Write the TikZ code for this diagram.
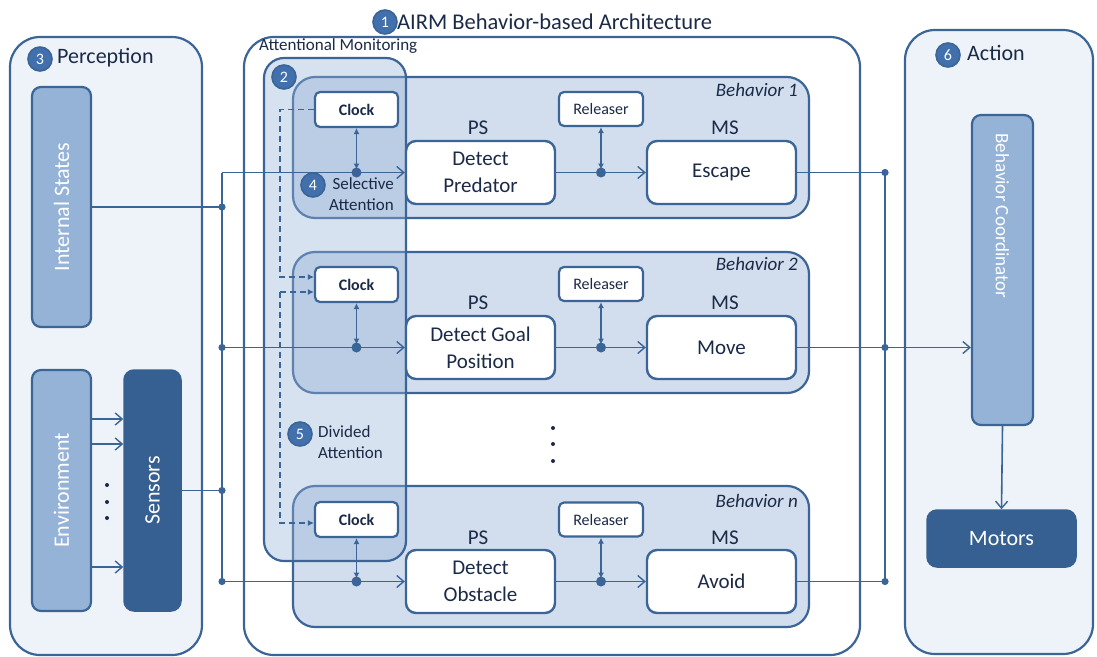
\documentclass[tikz,border=0pt]{standalone}
\usepackage{fontspec}
\setmainfont{Carlito}
\usetikzlibrary{arrows.meta,calc}

\definecolor{edge}{HTML}{3B6497}
\definecolor{pale}{HTML}{EEF3F9}
\definecolor{behav}{HTML}{D2DEEE}
\definecolor{mid}{HTML}{95B3D7}
\definecolor{deep}{HTML}{376092}
\definecolor{ink}{HTML}{1B2A47}
\definecolor{numfill}{HTML}{4170AD}

\newcommand\fsz[2]{\fontsize{#1}{#2}\selectfont}

\tikzset{
  panel/.style={draw=edge, line width=2.2pt, fill=pale, rounded corners=30pt, inner sep=0pt},
  behbox/.style={draw=edge, line width=2.2pt, fill=behav, rounded corners=22pt, inner sep=0pt,
                 minimum width=516pt, minimum height=141pt},
  attbox/.style={draw=edge, line width=2.2pt, fill=mid, fill opacity=0.38, rounded corners=20pt, inner sep=0pt},
  whitebox/.style={draw=edge, line width=2.4pt, fill=white, rounded corners=10pt, text=ink,
                   align=center, inner sep=0pt, minimum width=149pt, minimum height=63pt,
                   font=\fsz{21}{27}},
  clockbox/.style={draw=edge, line width=2.2pt, fill=white, rounded corners=5pt, text=ink,
                   inner sep=0pt, minimum width=83pt, minimum height=35pt, font=\fsz{16}{18}\bfseries},
  relbox/.style={draw=edge, line width=2.2pt, fill=white, rounded corners=5pt, text=ink,
                 inner sep=0pt, minimum width=84pt, minimum height=34pt, font=\fsz{16}{18}},
  barbox/.style={draw=edge, line width=2.2pt, fill=mid, rounded corners=9pt, text=white,
                 inner sep=0pt, font=\fsz{22}{24}},
  darkbox/.style={draw=deep, line width=1.5pt, fill=deep, rounded corners=10pt, text=white,
                  inner sep=0pt, font=\fsz{22}{24}},
  num/.style={circle, fill=numfill, draw=edge, line width=1.6pt, minimum size=24pt, inner sep=0pt,
              text=white, font=\fsz{16}{17}},
  lbl/.style={text=ink, inner sep=0pt},
  conn/.style={draw=edge, line width=1.6pt},
  arr/.style={conn, -{Straight Barb[length=7pt, width=12pt, line width=1.4pt]}},
  dbl/.style={conn, line width=1.4pt, {Latex[length=6pt, width=6pt]}-{Latex[length=6pt, width=6pt]}, shorten >=3pt},
  dsh/.style={conn, line width=1.4pt, dash pattern=on 6pt off 4pt},
  dsharr/.style={dsh, -{Latex[length=6pt, width=6pt]}},
}

\begin{document}
\begin{tikzpicture}[x=1pt, y=-1pt]
\useasboundingbox (0,0) rectangle (1097,656);

% ---------------- Perception ----------------
\node[panel, minimum width=192pt, minimum height=618pt] (perc) at (106,346) {};
\node[num] (n3) at (40,59) {3};
\node[lbl, anchor=west, font=\fsz{22}{24}] (perctxt) at (57,58) {Perception};

% rotated bars: width runs along the text
\node[barbox, minimum width=240pt, minimum height=59pt, rotate=90] (intst) at (61.5,207) {Internal States};
\node[barbox, minimum width=241pt, minimum height=59pt, rotate=90] (env) at (61.5,490.5) {Environment};
\node[darkbox, minimum width=241pt, minimum height=57pt, rotate=90] (sens) at (152.5,490.5) {Sensors};

\draw[arr] (env.south |- 0,419) -- (sens.north |- 0,419);
\draw[arr] (env.south |- 0,444) -- (sens.north |- 0,444);
\draw[arr] (env.south |- 0,567) -- (sens.north |- 0,567);
\foreach \yy in {485,502,518} \fill[ink] (107,\yy) circle (2pt);

% ---------------- Architecture ----------------
\node[panel, fill=white, minimum width=616pt, minimum height=618pt] (arch) at (552,346) {};
\node[num] (n1) at (385,22) {1};
\node[lbl, anchor=west, font=\fsz{22.5}{24}] (title) at (397,22) {AIRM Behavior-based Architecture};
\node[lbl, anchor=west, font=\fsz{17}{19}] (attmon) at (259,46) {Attentional Monitoring};

% behaviour boxes
\node[behbox] (beh1) at (551,147.5) {};
\node[behbox] (beh2) at (551,322.5) {};
\node[behbox] (behn) at (551,556.5) {};

% attention column, drawn over the behaviours
\node[attbox, minimum width=142pt, minimum height=503pt] (att) at (335,309.5) {};
\node[num] (n2) at (284,77) {2};

% labels in the behaviours
\node[lbl, anchor=east, font=\fsz{19}{21}\itshape] (bl1) at (798,90) {Behavior 1};
\node[lbl, anchor=east, font=\fsz{19}{21}\itshape] (bl2) at (798,264) {Behavior 2};
\node[lbl, anchor=east, font=\fsz{19}{21}\itshape] (bln) at (798,501) {Behavior n};

% clocks, releasers, schemas
\node[clockbox] (ck1) at (356.5,109.5) {Clock};
\node[clockbox] (ck2) at (356.5,284.5) {Clock};
\node[clockbox] (ckn) at (356.5,519.5) {Clock};

\node[relbox] (rl1) at (601,109) {Releaser};
\node[relbox] (rl2) at (601,284) {Releaser};
\node[relbox] (rln) at (601,519.5) {Releaser};

\node[whitebox] (ps1) at (480.5,172.5) {Detect\\Predator};
\node[whitebox] (ms1) at (721.5,172.5) {Escape};
\node[whitebox] (ps2) at (480.5,347.5) {Detect Goal\\Position};
\node[whitebox] (ms2) at (721.5,347.5) {Move};
\node[whitebox] (psn) at (480.5,581.5) {Detect\\Obstacle};
\node[whitebox] (msn) at (721.5,581.5) {Avoid};

\foreach \b/\yy in {1/128, 2/303, n/538} {
  \node[lbl, font=\fsz{21}{23}] (pslbl\b) at (478,\yy) {PS};
  \node[lbl, font=\fsz{21}{23}] (mslbl\b) at (725,\yy) {MS};
}

% dashed attention links between the clocks
\coordinate (dx) at (280,0);
\draw[dsharr] (ck1.west) -| (dx |- 0,277) -- (ck2.west |- 0,277);
\coordinate (d2) at (280,292);
\draw[dsharr] (d2) -- (ck2.west |- d2);
\draw[dsharr] (d2) |- (ckn.west |- 0,523);

% sensory bus
\coordinate (busx) at (222,0);
\coordinate (bt1) at (busx |- ps1.west);
\coordinate (bt2) at (busx |- ps2.west);
\coordinate (btn) at (busx |- psn.west);
\coordinate (bi) at (busx |- intst.south);
\coordinate (bs) at (busx |- sens.south);
\draw[conn] (bt1) -- (btn);
\draw[conn] (intst.south) -- (bi);
\draw[conn] (sens.south) -- (bs);
\foreach \p in {bi,bs,bt2,btn} \fill[edge] (\p) circle (3.6pt);

\foreach \b in {1,2,n} {
  \draw[arr] (bt\b) -- (ps\b.west);
  \coordinate (jc\b) at (ck\b.south |- ps\b.west);
  \coordinate (jr\b) at (rl\b.south |- ps\b.east);
  \draw[dbl] (ck\b.south) -- (jc\b);
  \draw[dbl] (rl\b.south) -- (jr\b);
  \draw[arr] (ps\b.east) -- (ms\b.west);
  \fill[edge] (jc\b) circle (5pt);
  \fill[edge] (jr\b) circle (5pt);
}

% attention captions
\node[num] (n4) at (313,185) {4};
\node[lbl, anchor=east, align=right, font=\fsz{17}{21}] (selatt) at (394,194) {Selective\\Attention};
\node[num] (n5) at (300,434) {5};
\node[lbl, anchor=west, align=left, font=\fsz{17}{21}] (divatt) at (318,442) {Divided\\Attention};

\foreach \yy in {428,444,461} \fill[ink] (553,\yy) circle (2pt);

% ---------------- Action ----------------
\node[panel, minimum width=188pt, minimum height=624pt] (act) at (999,342) {};
\node[num] (n6) at (948,55) {6};
\node[lbl, anchor=west, font=\fsz{22}{24}] (acttxt) at (967,53) {Action};
\node[barbox, minimum width=310pt, minimum height=61pt, rotate=-90] (bc) at (1002.5,270) {};
\node[inner sep=0pt, text=white, rotate=-90, font=\fsz{19}{21}] (bctxt) at (1002.5,216) {Behavior Coordinator};
\node[darkbox, minimum width=149pt, minimum height=57pt] (mot) at (1001.5,538.5) {Motors};

% motor-schema outputs to the coordinator
\coordinate (rx) at (885,0);
\coordinate (r1) at (rx |- ms1.east);
\coordinate (r2) at (rx |- ms2.east);
\coordinate (rn) at (rx |- msn.east);
\draw[conn] (r1) -- (rn);
\foreach \b in {1,2,n} {
  \draw[conn] (ms\b.east) -- (r\b);
  \fill[edge] (r\b) circle (3.6pt);
}
\draw[arr] (r2) -- (r2 -| bc.south);
\draw[arr] (bc.east) -- (mot.north);
\end{tikzpicture}
\end{document}
